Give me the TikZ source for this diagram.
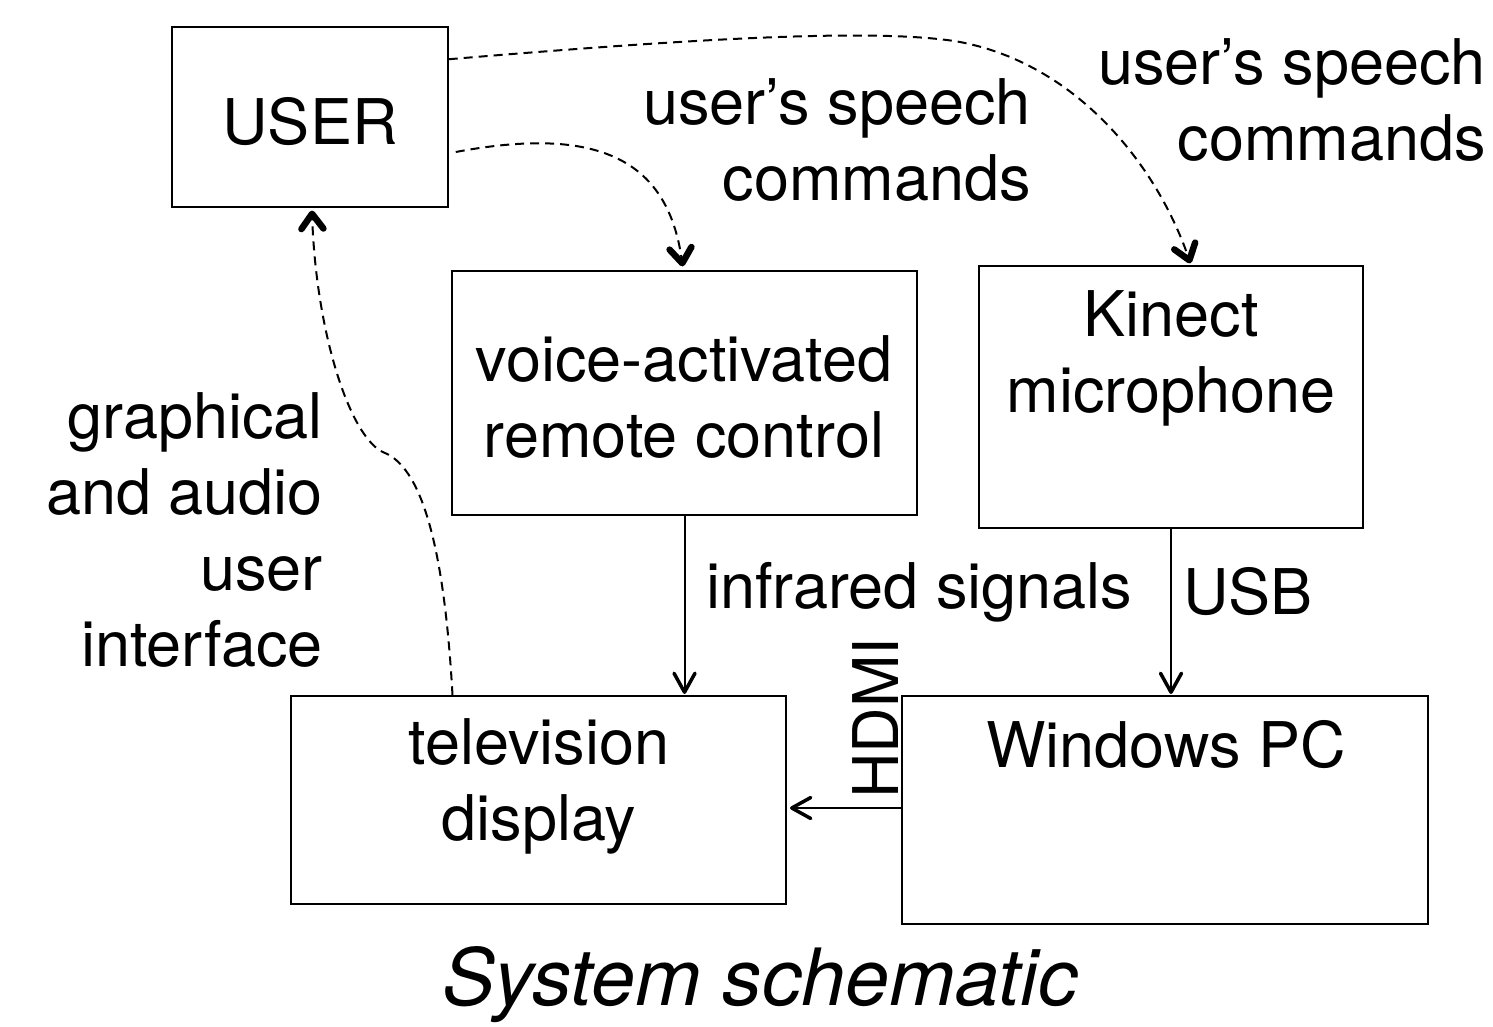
\documentclass[tikz,border=0pt]{standalone}
\usepackage{fontspec}
\setmainfont{TeX Gyre Heros}
\usetikzlibrary{decorations.markings}
\begin{document}
\begin{tikzpicture}[x=1pt,y=-1pt,
  box/.style={draw,line width=1.5pt,inner sep=0pt},
  lbl/.style={inner sep=0pt,font=\fontsize{63}{76}\selectfont},
  dasharrow/.style={line width=2pt,dash pattern=on 9pt off 6pt,
    postaction={decorate},
    decoration={markings,mark=at position 0.9999 with {\draw[solid,line width=6.5pt,line cap=round,line join=round]
      (-17pt,-11pt) -- (-2pt,0pt) -- (-17pt,11pt);}}},
  solidarrow/.style={line width=2pt,
    postaction={decorate},
    decoration={markings,mark=at position 0.9999 with {\draw[solid,line width=3.5pt,line cap=round,line join=round]
      (-20pt,-10.5pt) -- (-1pt,0pt) -- (-20pt,10.5pt);}}}]
\useasboundingbox (0,0) rectangle (1493,1027);
% boxes
\node[box,minimum width=276pt,minimum height=180pt] (user) at (310,117) {};
\node[box,minimum width=465pt,minimum height=244pt] (remote) at (684.5,393) {};
\node[box,minimum width=384pt,minimum height=262pt] (kinect) at (1171,397) {};
\node[box,minimum width=495pt,minimum height=208pt] (tv) at (538.5,800) {};
\node[box,minimum width=526pt,minimum height=228pt] (pc) at (1165,810) {};
% box texts
\node[lbl] (usert) at (310,122) {USER};
\node[lbl,align=center] (remotet) at (684,397) {voice-activated\\remote control};
\node[lbl,align=center] (kinectt) at (1171,358) {Kinect\\microphone};
\node[lbl,align=center] (tvt) at (539,786) {television\\display};
\node[lbl] (pct) at (1166,745) {Windows PC};
% labels
\node[lbl,align=right,anchor=east] (sp1) at (1031,140) {user’s speech\\commands};
\node[lbl,align=right,anchor=east] (sp2) at (1486,100) {user’s speech\\commands};
\node[lbl,align=right,anchor=east] (gui) at (323,530) {graphical\\and audio\\user\\interface};
\node[lbl,anchor=west] (ir) at (706,592) {infrared signals};
\node[lbl,anchor=west] (usb) at (1183,592) {USB};
\node[lbl,rotate=90] (hdmi) at (876,718) {HDMI};
\node[inner sep=0pt,font=\fontsize{79}{90}\selectfont\itshape] (title) at (760,985) {System schematic};
% connectors (y axis points down, so yshift>0 moves up on the page)
\draw[dasharrow] ([yshift=-33pt]user.north east) .. controls (700,38) and (880,28) .. (960,42)
   .. controls (1080,65) and (1160,170) .. ([xshift=19pt,yshift=3pt]kinect.north);
\draw[dasharrow] ([xshift=7pt,yshift=-35pt]user.east) .. controls (600,125) and (670,160) .. ([xshift=-2pt,yshift=5pt]remote.north);
\draw[dasharrow] ([xshift=-86pt]tv.north) .. controls (445,560) and (425,470) .. (385,453)
   .. controls (350,440) and (315,330) .. ([xshift=2pt,yshift=-4pt]user.south);
\draw[solidarrow] (remote.south) -- ([yshift=2pt]remote.south |- tv.north);
\draw[solidarrow] (kinect.south) -- ([yshift=2pt]kinect.south |- pc.north);
\draw[solidarrow] (pc.west |- 0,808) -- ([xshift=4pt]tv.east |- 0,808);
\end{tikzpicture}
\end{document}
